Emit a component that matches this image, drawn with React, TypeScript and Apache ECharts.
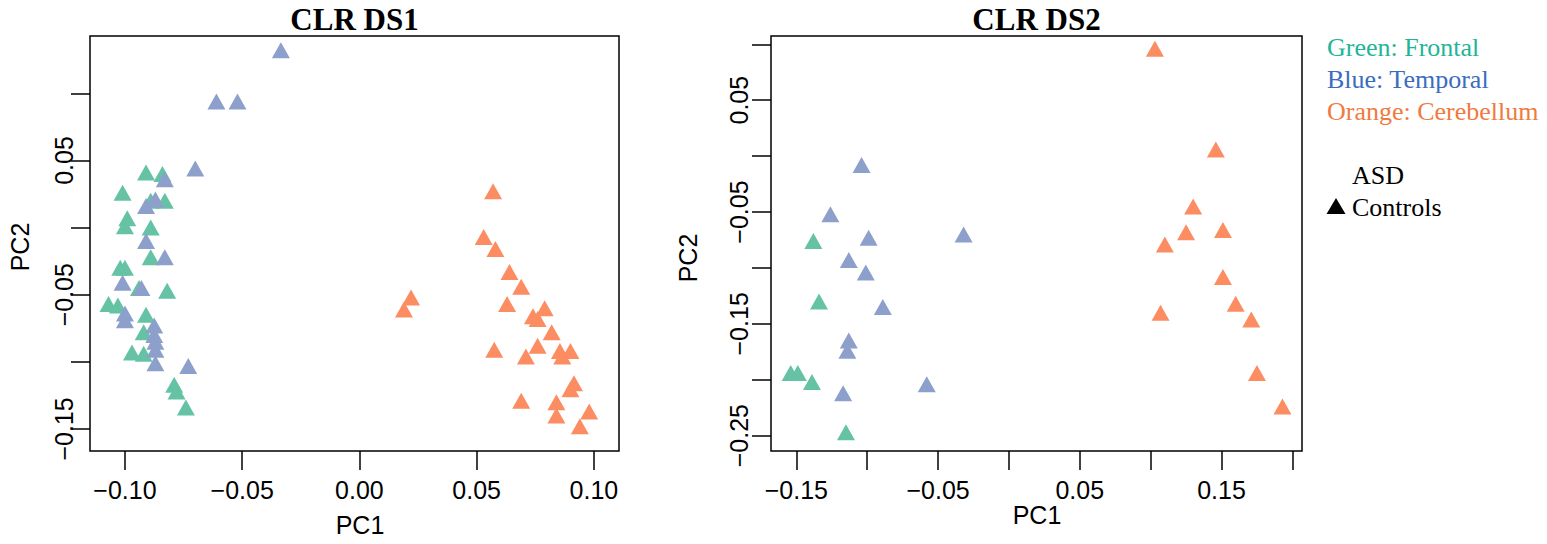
import React, { useEffect, useRef } from "react";
import * as echarts from "echarts";

// ---- Data (PC1, PC2) ----
const ds1Frontal: number[][] = [
  [-0.091, 0.041], [-0.084, 0.040], [-0.101, 0.026], [-0.089, 0.020], [-0.083, 0.020],
  [-0.099, 0.007], [-0.100, 0.001], [-0.089, 0.000], [-0.089, -0.022], [-0.102, -0.030],
  [-0.100, -0.030], [-0.094, -0.045], [-0.082, -0.047], [-0.107, -0.057], [-0.103, -0.058],
  [-0.091, -0.065], [-0.092, -0.078], [-0.097, -0.093], [-0.092, -0.094], [-0.079, -0.117],
  [-0.078, -0.122], [-0.074, -0.134],
];
const ds1Temporal: number[][] = [
  [-0.0335, 0.132], [-0.061, 0.094], [-0.052, 0.094], [-0.070, 0.044], [-0.083, 0.036],
  [-0.091, 0.016], [-0.087, 0.021], [-0.091, -0.010], [-0.083, -0.022], [-0.101, -0.041],
  [-0.093, -0.045], [-0.100, -0.064], [-0.100, -0.069], [-0.0875, -0.073], [-0.0875, -0.080],
  [-0.087, -0.085], [-0.087, -0.091], [-0.087, -0.101], [-0.073, -0.103],
];
const ds1Cerebellum: number[][] = [
  [0.057, 0.027], [0.053, -0.007], [0.058, -0.016], [0.064, -0.033], [0.069, -0.044],
  [0.022, -0.052], [0.019, -0.061], [0.063, -0.057], [0.079, -0.060], [0.074, -0.066],
  [0.076, -0.068], [0.082, -0.078], [0.076, -0.088], [0.0855, -0.092], [0.090, -0.092],
  [0.0865, -0.096], [0.0575, -0.091], [0.071, -0.096], [0.0915, -0.116], [0.090, -0.1205],
  [0.069, -0.129], [0.084, -0.130], [0.084, -0.140], [0.098, -0.137], [0.094, -0.148],
];
const ds2Frontal: number[][] = [
  [-0.138, -0.076], [-0.134, -0.130], [-0.154, -0.194], [-0.149, -0.194], [-0.139, -0.202],
  [-0.115, -0.247],
];
const ds2Temporal: number[][] = [
  [-0.104, -0.008], [-0.126, -0.052], [-0.099, -0.073], [-0.032, -0.070], [-0.113, -0.093],
  [-0.101, -0.104], [-0.089, -0.135], [-0.113, -0.165], [-0.114, -0.174], [-0.117, -0.212],
  [-0.058, -0.204],
];
const ds2Cerebellum: number[][] = [
  [0.103, 0.096], [0.146, 0.006], [0.130, -0.045], [0.125, -0.068], [0.151, -0.066],
  [0.110, -0.079], [0.151, -0.108], [0.160, -0.132], [0.171, -0.146], [0.107, -0.140],
  [0.175, -0.194], [0.193, -0.224],
];

// ---- Ticks and labels ----
const ds1XTicks = [-0.1, -0.05, 0, 0.05, 0.1];
const ds1XLabels = [-0.1, -0.05, 0, 0.05, 0.1];
const ds1YTicks = [-0.15, -0.1, -0.05, 0, 0.05, 0.1];
const ds1YLabels = [-0.15, -0.05, 0.05];
const ds2XTicks = [-0.15, -0.1, -0.05, 0, 0.05, 0.1, 0.15, 0.2];
const ds2XLabels = [-0.15, -0.05, 0.05, 0.15];
const ds2YTicks = [-0.25, -0.2, -0.15, -0.1, -0.05, 0, 0.05, 0.1];
const ds2YLabels = [-0.25, -0.15, -0.05, 0.05];

const titles = ["CLR DS1", "CLR DS2"];
const tissueNames = ["Green: Frontal", "Blue: Temporal", "Orange: Cerebellum"];

const pointColors = ["#66c2a5", "#8da0cb", "#fc8d62"];
const textColors = ["#1fb597", "#3a6cbf", "#f07a40"];

const SANS = '"Liberation Sans", Arial, Helvetica, sans-serif';
const SERIF = '"Liberation Serif", "Times New Roman", serif';

const fmt = (v: number) => (v < 0 ? "\u2212" : "") + Math.abs(v).toFixed(2);

export default function App() {
  const ref = useRef<HTMLDivElement>(null);

  useEffect(() => {
    if (!ref.current) return;
    const chart = echarts.init(ref.current, undefined, { renderer: "svg" });

    const tickStyle = { color: "#000", width: 1.5 };
    const labelBase = { color: "#000", fontFamily: SANS, fontSize: 25, formatter: fmt };

    const xAxis = (gridIndex: number, min: number, max: number, ticks: number[], labels: number[]) => ({
      type: "value",
      gridIndex,
      min,
      max,
      position: "bottom",
      axisLine: { show: false, onZero: false },
      splitLine: { show: false },
      axisTick: { show: true, length: 19, lineStyle: tickStyle, customValues: ticks },
      axisLabel: { ...labelBase, margin: 26, customValues: labels },
    });
    const yAxis = (gridIndex: number, min: number, max: number, ticks: number[], labels: number[], margin: number) => ({
      type: "value",
      gridIndex,
      min,
      max,
      position: "left",
      axisLine: { show: false, onZero: false },
      splitLine: { show: false },
      axisTick: { show: true, length: 19, lineStyle: tickStyle, customValues: ticks },
      axisLabel: { ...labelBase, rotate: 90, margin, customValues: labels },
    });

    const scatter = (idx: number, data: number[][], color: string, name: string) => ({
      type: "scatter",
      name,
      xAxisIndex: idx,
      yAxisIndex: idx,
      data,
      symbol: "triangle",
      symbolSize: [18, 16],
      itemStyle: { color, opacity: 1 },
      silent: true,
    });

    const legendGraphics: any[] = tissueNames.map((t, i) => ({
      type: "text",
      x: 1327,
      y: 47 + i * 32,
      style: {
        text: t,
        font: `26px ${SERIF}`,
        fill: textColors[i],
        textAlign: "left",
        textVerticalAlign: "middle",
      },
    }));

    const option: any = {
      animation: false,
      backgroundColor: "#fff",
      grid: [
        { left: 90, top: 36, width: 529, height: 415, show: true, borderColor: "#000", borderWidth: 1.5, backgroundColor: "transparent" },
        { left: 771, top: 36, width: 531, height: 415, show: true, borderColor: "#000", borderWidth: 1.5, backgroundColor: "transparent" },
      ],
      xAxis: [
        xAxis(0, -0.1149, 0.1107, ds1XTicks, ds1XLabels),
        xAxis(1, -0.1679, 0.2068, ds2XTicks, ds2XLabels),
      ],
      yAxis: [
        yAxis(0, -0.1664, 0.1427, ds1YTicks, ds1YLabels, 14),
        yAxis(1, -0.2637, 0.1074, ds2YTicks, ds2YLabels, 20),
      ],
      series: [
        scatter(0, ds1Frontal, pointColors[0], "Frontal"),
        scatter(0, ds1Temporal, pointColors[1], "Temporal"),
        scatter(0, ds1Cerebellum, pointColors[2], "Cerebellum"),
        scatter(1, ds2Frontal, pointColors[0], "Frontal"),
        scatter(1, ds2Temporal, pointColors[1], "Temporal"),
        scatter(1, ds2Cerebellum, pointColors[2], "Cerebellum"),
      ],
      graphic: [
        { type: "text", x: 354.5, y: 19, style: { text: titles[0], font: `bold 31px ${SERIF}`, fill: "#000", textAlign: "center", textVerticalAlign: "middle" } },
        { type: "text", x: 1036.5, y: 19, style: { text: titles[1], font: `bold 31px ${SERIF}`, fill: "#000", textAlign: "center", textVerticalAlign: "middle" } },
        { type: "text", x: 360, y: 525, style: { text: "PC1", font: `25px ${SANS}`, fill: "#000", textAlign: "center", textVerticalAlign: "middle" } },
        { type: "text", x: 1037, y: 515, style: { text: "PC1", font: `25px ${SANS}`, fill: "#000", textAlign: "center", textVerticalAlign: "middle" } },
        { type: "text", x: 20, y: 247, rotation: Math.PI / 2, style: { text: "PC2", font: `25px ${SANS}`, fill: "#000", textAlign: "center", textVerticalAlign: "middle" } },
        { type: "text", x: 688, y: 258, rotation: Math.PI / 2, style: { text: "PC2", font: `25px ${SANS}`, fill: "#000", textAlign: "center", textVerticalAlign: "middle" } },
        ...legendGraphics,
        { type: "text", x: 1352, y: 175, style: { text: "ASD", font: `26px ${SERIF}`, fill: "#000", textAlign: "left", textVerticalAlign: "middle" } },
        { type: "polygon", shape: { points: [[1336, 198], [1345.5, 214], [1326.5, 214]] }, style: { fill: "#000" } },
        { type: "text", x: 1352, y: 207, style: { text: "Controls", font: `26px ${SERIF}`, fill: "#000", textAlign: "left", textVerticalAlign: "middle" } },
      ],
    };

    chart.setOption(option);
    return () => chart.dispose();
  }, []);

  return (
    <div
      ref={ref}
      style={{ position: "fixed", left: 0, top: 0, width: 1547, height: 544, background: "#fff" }}
    />
  );
}
